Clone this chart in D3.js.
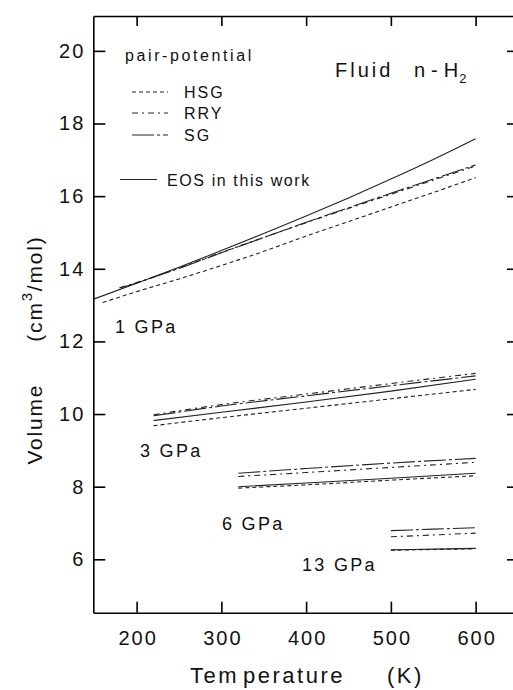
<!DOCTYPE html>
<html><head><meta charset="utf-8">
<script src="https://cdn.jsdelivr.net/npm/d3@7/dist/d3.min.js"></script>
<style>
html,body{margin:0;padding:0;background:#fff;}
svg{display:block;}
text{font-family:"Liberation Sans",Arial,Helvetica,sans-serif;fill:#111;}
</style></head>
<body>
<svg id="chart" width="513" height="690"></svg>
<script>
// ---------- data ----------
const xTicks = [200, 300, 400, 500, 600];
const yTicks = [6, 8, 10, 12, 14, 16, 18, 20];

// 1 GPa
const T1eos = [150, 200, 250, 300, 350, 400, 450, 500, 550, 600];
const V1eos = [13.17, 13.60, 14.04, 14.50, 14.97, 15.45, 15.95, 16.47, 17.01, 17.58];
const T1hsg = [160, 200, 250, 300, 350, 400, 450, 500, 550, 600];
const V1hsg = [13.07, 13.37, 13.72, 14.09, 14.48, 14.90, 15.30, 15.70, 16.10, 16.51];
const T1pp  = [180, 200, 250, 300, 350, 400, 450, 500, 550, 600];
const V1rry = [13.48, 13.62, 14.02, 14.45, 14.86, 15.27, 15.66, 16.05, 16.44, 16.83];
const V1sg  = [13.47, 13.61, 14.01, 14.44, 14.86, 15.28, 15.68, 16.08, 16.47, 16.86];

// 3 GPa
const T3 = [220, 300, 400, 500, 600];
const V3eos = [9.82, 10.05, 10.33, 10.63, 10.96];
const V3hsg = [9.68, 9.90, 10.16, 10.42, 10.68];
const V3rry = [9.98, 10.26, 10.55, 10.84, 11.12];
const V3sg  = [9.95, 10.22, 10.50, 10.78, 11.05];

// 6 GPa
const T6 = [320, 400, 500, 600];
const V6eos = [8.00, 8.10, 8.23, 8.37];
const V6hsg = [7.96, 8.05, 8.18, 8.30];
const V6rry = [8.28, 8.39, 8.53, 8.67];
const V6sg  = [8.37, 8.50, 8.65, 8.78];

// 13 GPa
const T13 = [500, 550, 600];
const V13eos = [6.26, 6.28, 6.30];
const V13hsg = [6.25, 6.27, 6.29];
const V13rry = [6.62, 6.67, 6.72];
const V13sg  = [6.79, 6.83, 6.87];

const pressureLabels = ["1 GPa", "3 GPa", "6 GPa", "13 GPa"];
const legendNames = ["HSG", "RRY", "SG"];

// ---------- styles ----------
const dash = {EOS: null, HSG: "4,3", RRY: "6,4,2,4", SG: "22,3,3,3"};

const svg = d3.select("#chart");
const x = d3.scaleLinear().domain([148.9, 650]).range([93.3, 518]);
const y = d3.scaleLinear().domain([4.53, 20.96]).range([612.7, 16]);

const zip = (T, V) => T.map((t, i) => [t, V[i]]);
const series = [
  {k: "HSG", d: zip(T1hsg, V1hsg)}, {k: "RRY", d: zip(T1pp, V1rry)}, {k: "SG", d: zip(T1pp, V1sg)}, {k: "EOS", d: zip(T1eos, V1eos)},
  {k: "HSG", d: zip(T3, V3hsg)}, {k: "RRY", d: zip(T3, V3rry)}, {k: "SG", d: zip(T3, V3sg)}, {k: "EOS", d: zip(T3, V3eos)},
  {k: "HSG", d: zip(T6, V6hsg)}, {k: "RRY", d: zip(T6, V6rry)}, {k: "SG", d: zip(T6, V6sg)}, {k: "EOS", d: zip(T6, V6eos)},
  {k: "HSG", d: zip(T13, V13hsg)}, {k: "RRY", d: zip(T13, V13rry)}, {k: "SG", d: zip(T13, V13sg)}, {k: "EOS", d: zip(T13, V13eos)}
];

const line = d3.line().x(d => x(d[0])).y(d => y(d[1])).curve(d3.curveMonotoneX);
svg.append("g").selectAll("path").data(series).join("path")
  .attr("d", s => line(s.d))
  .attr("fill", "none").attr("stroke", "#222").attr("stroke-width", 1.1)
  .attr("stroke-dasharray", s => dash[s.k]);

// ---------- axes ----------
const gB = svg.append("g").attr("transform", `translate(0,${y.range()[0]})`)
  .call(d3.axisBottom(x).tickValues(xTicks).tickSizeInner(-11).tickSizeOuter(0).tickPadding(18).tickFormat(d3.format("d")));
const gL = svg.append("g").attr("transform", `translate(${x.range()[0]},0)`)
  .call(d3.axisLeft(y).tickValues(yTicks).tickSizeInner(-12).tickSizeOuter(0).tickPadding(8).tickFormat(d3.format("d")));
const gT = svg.append("g").attr("transform", `translate(0,${y.range()[1]})`)
  .call(d3.axisTop(x).tickValues(xTicks).tickSizeInner(-10).tickSizeOuter(0).tickFormat(""));
const gR = svg.append("g").attr("transform", `translate(${x.range()[1]},0)`)
  .call(d3.axisRight(y).tickValues(yTicks).tickSizeInner(-11).tickSizeOuter(0).tickFormat(""));
[gB, gL, gT, gR].forEach(g => {
  g.select(".domain").attr("stroke", "#000").attr("stroke-width", 1.6);
  g.selectAll(".tick line").attr("stroke", "#000").attr("stroke-width", 1.6);
  g.selectAll(".tick text").attr("fill", "#111").style("font-size", "20px")
    .style("font-family", '"Liberation Sans",Arial,sans-serif').style("letter-spacing", "2px");
});
gB.selectAll(".tick text").attr("dx", 1);

// axis titles
const xt = svg.append("text").attr("y", 683).style("font-size", "22px").style("letter-spacing", "2.5px");
xt.append("tspan").attr("x", 190).text("Tem");
xt.append("tspan").attr("dx", 4).text("perature");
svg.append("text").attr("x", 387).attr("y", 683).style("font-size", "22px").style("letter-spacing", "2.5px")
  .text("(K)");

const yl = svg.append("text").attr("transform", "translate(42,350) rotate(-90)")
  .attr("text-anchor", "middle").style("font-size", "21px").style("letter-spacing", "1.8px");
yl.append("tspan").text("Volume");
yl.append("tspan").attr("dx", 42).text("(cm");
yl.append("tspan").attr("dy", -10).style("font-size", "15px").text("3");
yl.append("tspan").attr("dy", 10).text("/mol)");

// title
const tt = svg.append("text").attr("y", 77).style("font-size", "20px");
tt.append("tspan").attr("x", 335).style("letter-spacing", "3px").text("Fluid");
tt.append("tspan").attr("x", 414).style("letter-spacing", "6px").text("n-");
tt.append("tspan").style("letter-spacing", "0px").text("H");
tt.append("tspan").attr("dx", 1).attr("dy", 6).style("font-size", "13px").text("2");

// pressure labels
const labelPos = [[115, 333], [140, 457], [222, 530], [302, 571]];
svg.append("g").selectAll("text").data(pressureLabels).join("text")
  .attr("x", (d, i) => labelPos[i][0]).attr("y", (d, i) => labelPos[i][1])
  .style("font-size", "18px").style("letter-spacing", "2.3px").text(d => d);

// legend
svg.append("text").attr("x", 125).attr("y", 61).style("font-size", "16px").style("letter-spacing", "2.6px").text("pair-potential");
const lg = svg.append("g");
const legendY = [92, 113, 135];
legendNames.forEach((n, i) => {
  const yy = legendY[i];
  lg.append("line").attr("x1", 132).attr("x2", 168).attr("y1", yy).attr("y2", yy)
    .attr("stroke", "#222").attr("stroke-width", 1.1).attr("stroke-dasharray", dash[n]);
  lg.append("text").attr("x", 184).attr("y", yy + 6).style("font-size", "16px").style("letter-spacing", "2px").text(n);
});
lg.append("line").attr("x1", 120).attr("x2", 157).attr("y1", 179.5).attr("y2", 179.5).attr("stroke", "#222").attr("stroke-width", 1.1);
lg.append("text").attr("x", 167).attr("y", 185.5).style("font-size", "16px").style("letter-spacing", "1.6px").text("EOS in this work");
</script>
</body></html>
